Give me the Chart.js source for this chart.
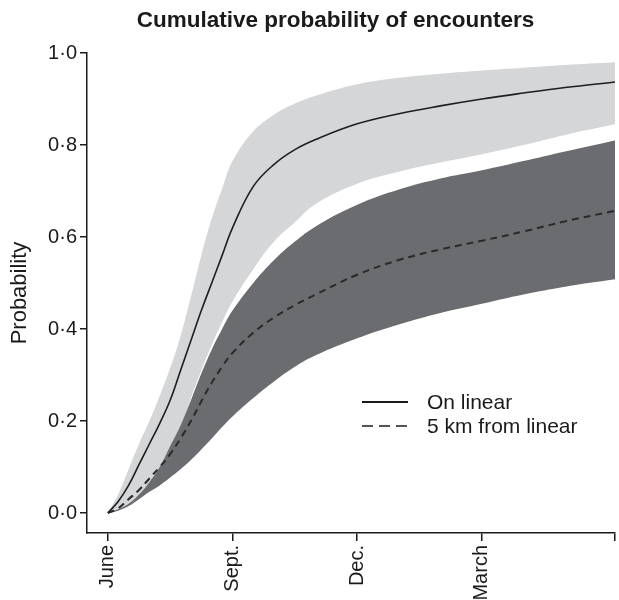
<!DOCTYPE html>
<html>
<head>
<meta charset="utf-8">
<script src="https://cdn.jsdelivr.net/npm/chart.js@4.4.1/dist/chart.umd.min.js"></script>
<style>
  html, body { margin: 0; padding: 0; background: #ffffff; }
  #wrap { width: 619px; height: 600px; position: relative; }
</style>
</head>
<body>
<div id="wrap"><canvas id="c" width="619" height="600"></canvas></div>
<script>
// Months since June (x positions of the modelled series)
const months = [0, 0.25, 0.5, 0.75, 1, 1.25, 1.5, 1.75, 2, 2.25, 2.5, 2.75, 3, 3.5, 4, 4.5, 5, 6, 7, 8, 9, 10, 11, 12.2];

// "On linear": mean and confidence band
const onLinearMean  = [0, 0.025, 0.06, 0.105, 0.15, 0.195, 0.245, 0.31, 0.375, 0.44, 0.5, 0.56, 0.62, 0.71, 0.758, 0.79, 0.812, 0.846, 0.868, 0.885, 0.9, 0.913, 0.925, 0.937];
const onLinearUpper = [0, 0.04, 0.095, 0.15, 0.2, 0.255, 0.315, 0.385, 0.47, 0.56, 0.64, 0.705, 0.765, 0.83, 0.866, 0.89, 0.907, 0.932, 0.946, 0.955, 0.962, 0.968, 0.974, 0.98];
const onLinearLower = [0, 0.005, 0.015, 0.035, 0.06, 0.09, 0.13, 0.18, 0.25, 0.31, 0.365, 0.415, 0.46, 0.53, 0.59, 0.632, 0.672, 0.716, 0.742, 0.762, 0.78, 0.80, 0.822, 0.845];

// "5 km from linear": mean and confidence band
const fiveKmMean  = [0, 0.01, 0.03, 0.05, 0.075, 0.1, 0.128, 0.162, 0.2, 0.243, 0.283, 0.318, 0.348, 0.392, 0.425, 0.452, 0.475, 0.518, 0.55, 0.573, 0.592, 0.612, 0.634, 0.657];
const fiveKmUpper = [0, 0.008, 0.02, 0.04, 0.067, 0.1, 0.145, 0.19, 0.245, 0.303, 0.355, 0.4, 0.44, 0.5, 0.55, 0.59, 0.623, 0.67, 0.703, 0.727, 0.745, 0.765, 0.786, 0.81];
const fiveKmLower = [0, 0.005, 0.015, 0.03, 0.046, 0.06, 0.077, 0.095, 0.115, 0.138, 0.162, 0.187, 0.21, 0.25, 0.286, 0.318, 0.343, 0.38, 0.41, 0.435, 0.455, 0.475, 0.492, 0.508];

// Tick labels
const xTickValues = [0, 3, 6, 9];
const xTickLabels = ['June', 'Sept.', 'Dec.', 'March'];
const xAxisEnd = 12.2;
const yTickValues = [0, 0.2, 0.4, 0.6, 0.8, 1.0];

const seriesLabels = ['On linear', '5 km from linear'];

const FONT = "'Liberation Sans', Arial, Helvetica, sans-serif";
const AXIS = '#1a1a1a';
const LIGHT = '#d5d6d8';
const DARK = '#6b6c70';

const pts = arr => arr.map((v, i) => ({ x: months[i], y: v }));

const base = { pointRadius: 0, borderWidth: 0, tension: 0.4 };

const layoutTweaks = {
  id: 'layoutTweaks',
  afterLayout(chart) {
    // shift the title box so its centre sits slightly left of the plot centre
    const t = chart.titleBlock;
    if (t) { t.left = chart.chartArea.left - 31; }
  }
};

const legendPlugin = {
  id: 'insideLegend',
  afterDraw(chart) {
    const ctx = chart.ctx;
    const a = chart.chartArea;
    const x0 = a.left + 275, x1 = a.left + 321, tx = a.left + 340;
    const rows = [
      { label: seriesLabels[0], dash: [], color: '#1a1a1a', y: 402 },
      { label: seriesLabels[1], dash: [11, 6], color: '#555555', y: 426 }
    ];
    ctx.save();
    ctx.font = '21px ' + FONT;
    ctx.textBaseline = 'middle';
    ctx.textAlign = 'left';
    rows.forEach(r => {
      ctx.beginPath();
      ctx.setLineDash(r.dash);
      ctx.strokeStyle = r.color;
      ctx.lineWidth = 2;
      ctx.moveTo(x0, r.y);
      ctx.lineTo(x1, r.y);
      ctx.stroke();
      ctx.setLineDash([]);
      ctx.fillStyle = '#1a1a1a';
      ctx.fillText(r.label, tx, r.y + 1);
    });
    ctx.restore();
  }
};

new Chart(document.getElementById('c'), {
  type: 'line',
  data: {
    datasets: [
      Object.assign({}, base, { label: 'on-lower', data: pts(onLinearLower), fill: false, borderColor: 'rgba(0,0,0,0)', order: 10 }),
      Object.assign({}, base, { label: 'on-upper', data: pts(onLinearUpper), fill: '-1', backgroundColor: LIGHT, borderColor: 'rgba(0,0,0,0)', order: 9 }),
      Object.assign({}, base, { label: '5km-lower', data: pts(fiveKmLower), fill: false, borderColor: 'rgba(0,0,0,0)', order: 8 }),
      Object.assign({}, base, { label: '5km-upper', data: pts(fiveKmUpper), fill: '-1', backgroundColor: DARK, borderColor: 'rgba(0,0,0,0)', order: 7 }),
      Object.assign({}, base, { label: seriesLabels[0], data: pts(onLinearMean), fill: false, borderColor: '#1e1e1e', borderWidth: 1.6, order: 2 }),
      Object.assign({}, base, { label: seriesLabels[1], data: pts(fiveKmMean), fill: false, borderColor: '#2a2a2a', borderWidth: 2, borderDash: [7, 5], order: 1 })
    ]
  },
  options: {
    responsive: false,
    animation: false,
    events: [],
    layout: { padding: { left: 0, right: 4, top: 0, bottom: 0 } },
    plugins: {
      legend: { display: false },
      tooltip: { enabled: false },
      title: {
        display: true,
        text: 'Cumulative probability of encounters',
        color: '#1a1a1a',
        font: { family: FONT, size: 22.5, weight: 'bold' },
        padding: { top: 7, bottom: 19 },
        fullSize: false
      }
    },
    scales: {
      x: {
        type: 'linear',
        min: -0.5,
        max: xAxisEnd,
        afterBuildTicks: s => { s.ticks = xTickValues.map(v => ({ value: v })).concat([{ value: xAxisEnd }]); },
        afterFit: s => { s.height = 67; s.paddingRight = 0; s.paddingLeft = 0; },
        ticks: {
          autoSkip: false,
          minRotation: 90,
          maxRotation: 90,
          padding: 4,
          color: '#1a1a1a',
          font: { family: FONT, size: 20 },
          callback: v => { const i = xTickValues.indexOf(v); return i >= 0 ? xTickLabels[i] : ''; }
        },
        grid: { drawOnChartArea: false, drawTicks: true, tickLength: 8, color: AXIS, lineWidth: 1.5 },
        border: { display: true, color: AXIS, width: 1.5 }
      },
      y: {
        type: 'linear',
        min: -0.0435,
        max: 1.0,
        afterBuildTicks: s => { s.ticks = yTickValues.map(v => ({ value: v })); },
        afterFit: s => { s.width = 87; },
        ticks: {
          padding: 3,
          color: '#1a1a1a',
          font: { family: FONT, size: 20 },
          callback: v => v.toFixed(1).replace('.', '\u00B7')
        },
        grid: { drawOnChartArea: false, drawTicks: true, tickLength: 7, color: AXIS, lineWidth: 1.5 },
        border: { display: true, color: AXIS, width: 1.5 },
        title: {
          display: true,
          text: 'Probability',
          color: '#1a1a1a',
          font: { family: FONT, size: 22 },
          padding: { top: 7, bottom: 0 }
        }
      }
    }
  },
  plugins: [layoutTweaks, legendPlugin]
});
</script>
</body>
</html>
